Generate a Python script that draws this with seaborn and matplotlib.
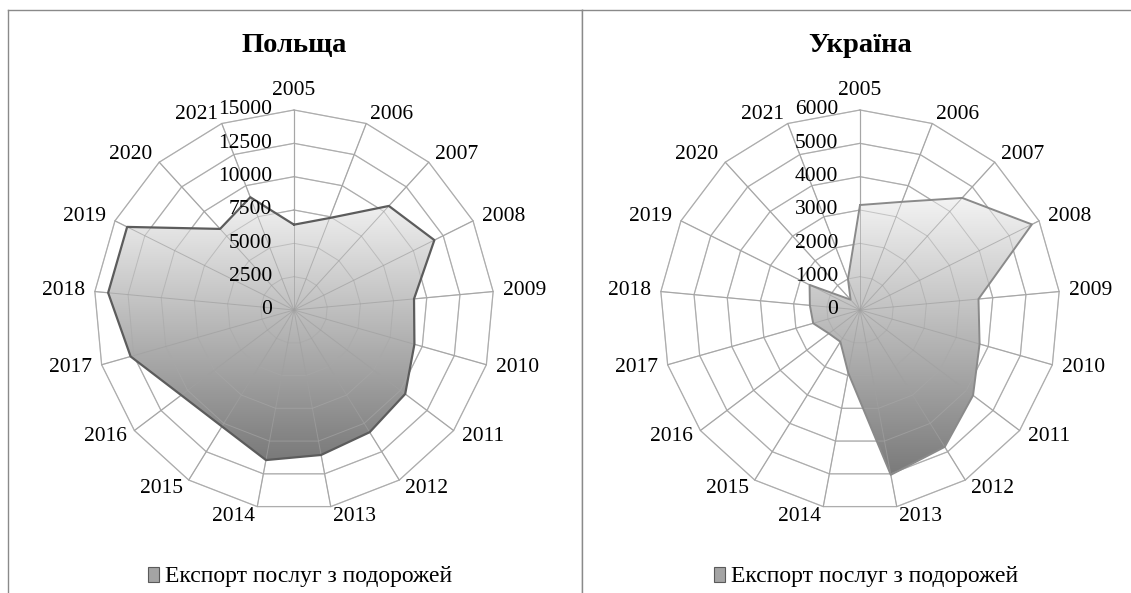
import numpy as np
import pandas as pd
import matplotlib.pyplot as plt
import seaborn as sns
from matplotlib.patches import Polygon, Patch
from matplotlib.colors import LinearSegmentedColormap

years = ['2005', '2006', '2007', '2008', '2009', '2010', '2011', '2012', '2013',
         '2014', '2015', '2016', '2017', '2018', '2019', '2020', '2021']

poland_values = [6400, 7400, 10560, 11760, 9040, 9390, 10450, 10780, 11060,
                 11450, 10270, 10600, 12740, 14000, 13980, 8230, 9070]
ukraine_values = [3150, 3480, 4550, 5760, 3570, 3730, 4250, 4830, 5030,
                  1920, 1120, 1170, 1460, 1510, 1690, 420, 1000]

poland_ticks = [0, 2500, 5000, 7500, 10000, 12500, 15000]
ukraine_ticks = [0, 1000, 2000, 3000, 4000, 5000, 6000]

legend_label = 'Експорт послуг з подорожей'

sns.set_style('white')
plt.rcParams['font.family'] = ['Liberation Serif', 'DejaVu Serif']
plt.rcParams['text.color'] = 'black'

W, H = 1131, 593
R = 200.0  # outer ring radius in pixels
grid_color = '#b4b4b4'
gradient = LinearSegmentedColormap.from_list('grad', ['#7a7a7a', '#f3f3f3'])


def draw_radar(ax, values, ticks, title, edge_color, edge_width, cx, x0, x1):
    cy, top, bottom = 310, 10, 603
    ax.set_xlim((x0 - cx) / R, (x1 - cx) / R)
    ax.set_ylim((cy - bottom) / R, (cy - top) / R)

    n = len(years)
    theta = 2 * np.pi * np.arange(n) / n
    sx, sy = np.sin(theta), np.cos(theta)
    rmax = ticks[-1]

    # polygon grid rings and spokes
    for t in ticks[1:]:
        f = t / rmax
        ax.plot(np.append(sx, sx[0]) * f, np.append(sy, sy[0]) * f,
                color=grid_color, lw=0.9, zorder=1)
    for i in range(n):
        ax.plot([0, sx[i]], [0, sy[i]], color=grid_color, lw=0.9, zorder=1)

    # data polygon with vertical gradient
    r = np.array(values) / rmax
    px, py = r * sx, r * sy
    poly = Polygon(np.column_stack([px, py]), closed=True, facecolor='none',
                   edgecolor='none')
    ax.add_patch(poly)
    grad = np.linspace(0, 1, 256).reshape(-1, 1)
    im = ax.imshow(grad, extent=[px.min(), px.max(), py.min(), py.max()],
                   origin='lower', cmap=gradient, aspect='auto', zorder=2)
    im.set_clip_path(poly)

    outline = pd.DataFrame({'x': np.append(px, px[0]), 'y': np.append(py, py[0])})
    sns.lineplot(data=outline, x='x', y='y', sort=False, estimator=None,
                 color=edge_color, linewidth=edge_width, ax=ax, zorder=3)

    # grid drawn again over the fill (Excel keeps gridlines visible)
    for t in ticks[1:]:
        f = t / rmax
        ax.plot(np.append(sx, sx[0]) * f, np.append(sy, sy[0]) * f,
                color='#a8a8a8', lw=0.7, alpha=0.6, zorder=2.5)
    for i in range(n):
        ax.plot([0, sx[i]], [0, sy[i]], color='#a0a0a0', lw=0.7, alpha=0.7,
                zorder=2.5)

    # category labels
    pad = 1 + 10 / R
    for i, lab in enumerate(years):
        if abs(sx[i]) < 0.05:
            ha = 'center'
        else:
            ha = 'left' if sx[i] > 0 else 'right'
        va = 'bottom' if sy[i] > 0.95 else 'center'
        ax.text(sx[i] * pad, sy[i] * pad, lab, ha=ha, va=va, fontsize=15.5,
                zorder=4)

    # radial value labels
    for t in ticks:
        ax.text(-22 / R, t / rmax, str(t), ha='right', va='center',
                fontsize=15.5, zorder=4)

    ax.text(0, (cy - 46) / R, title, ha='center', va='center', fontsize=20.5,
            fontweight='bold')

    handle = Patch(facecolor='#a4a4a4', edgecolor='#5a5a5a', linewidth=0.8)
    ax.legend([handle], [legend_label], loc='center', frameon=False,
              bbox_to_anchor=(0.03, -(577 - cy) / R), bbox_transform=ax.transData,
              fontsize=17, handlelength=0.45, handleheight=0.6,
              handletextpad=0.25, borderaxespad=0)

    ax.set_xlabel('')
    ax.set_ylabel('')
    ax.set_xticks([])
    ax.set_yticks([])
    for side in ['left', 'top', 'right']:
        ax.spines[side].set_color('#8a8a8a')
        ax.spines[side].set_linewidth(1.0)
    ax.spines['bottom'].set_visible(False)


fig = plt.figure(figsize=(W / 100, H / 100), dpi=100)

panels = [
    (poland_values, poland_ticks, 'Польща', '#5c5c5c', 1.6, 294, 8, 582),
    (ukraine_values, ukraine_ticks, 'Україна', '#8a8a8a', 1.4, 860, 582, 1140),
]
for values, ticks, title, ec, ew, cx, x0, x1 in panels:
    ax = fig.add_axes([x0 / W, 1 - 603 / H, (x1 - x0) / W, (603 - 10) / H])
    draw_radar(ax, values, ticks, title, ec, ew, cx, x0, x1)

fig.savefig('out.png', dpi=100)
